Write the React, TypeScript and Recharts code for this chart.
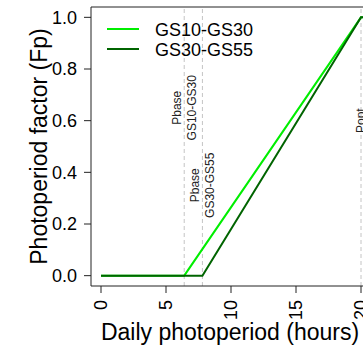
import React from 'react';
import { LineChart, Line, XAxis, YAxis, ReferenceLine } from 'recharts';

// photoperiod response
const seriesNames = ['GS10-GS30', 'GS30-GS55'];
const seriesColors = ['#00ee00', '#006400'];
const hoursGS10 = [0, 6.4, 20, 24];
const fpGS10 = [0, 0, 1, 1];
const hoursGS30 = [0, 7.8, 20, 24];
const fpGS30 = [0, 0, 1, 1];

const thresholdHours = [6.4, 7.8, 20];
const thresholdLabels = [['Pbase', 'GS10-GS30'], ['Pbase', 'GS30-GS55'], ['Popt']];
const thresholdLabelFp = [0.65, 0.35, 0.6];

const xTicks = [0, 5, 10, 15, 20];
const yTicks = [0, 0.2, 0.4, 0.6, 0.8, 1.0];

const gs10 = hoursGS10.map((h, i) => ({ h, fp: fpGS10[i] }));
const gs30 = hoursGS30.map((h, i) => ({ h, fp: fpGS30[i] }));

const FONT = '"Liberation Sans", Arial, sans-serif';
const X_DOMAIN: [number, number] = [-0.77, 25];
const Y_DOMAIN: [number, number] = [-0.04, 1.04];

const XTick = ({ x, y, payload }: any) => (
  <text x={x} y={y} transform={`rotate(-90 ${x} ${y})`} textAnchor="end" dy="0.35em"
    fontSize={18} fontFamily={FONT} fill="#000">
    {payload.value}
  </text>
);

const YTick = ({ x, y, payload }: any) => (
  <text x={x} y={y} textAnchor="end" dy="0.35em" fontSize={18} fontFamily={FONT} fill="#000">
    {Number(payload.value).toFixed(1)}
  </text>
);

const makeThresholdLabel = (lines: string[], fp: number) => ({ viewBox }: any) => {
  const { x, y, height } = viewBox;
  const cy = y + (height * (Y_DOMAIN[1] - fp)) / (Y_DOMAIN[1] - Y_DOMAIN[0]);
  const offsets = lines.length === 1 ? [4] : [-3, 12];
  return (
    <g>
      {lines.map((t, i) => {
        const lx = x + offsets[i];
        return (
          <text key={i} x={lx} y={cy} transform={`rotate(-90 ${lx} ${cy})`} textAnchor="middle"
            fontSize={12} fontFamily={FONT} fill="#222">
            {t}
          </text>
        );
      })}
    </g>
  );
};

export default function App() {
  return (
    <div style={{ position: 'fixed', left: 0, top: 0, width: 363, height: 346, overflow: 'hidden', background: '#fff' }}>
      <LineChart width={440} height={346} margin={{ top: 7, right: 14, bottom: 0, left: 0 }}>
        <XAxis
          type="number"
          dataKey="h"
          domain={X_DOMAIN}
          ticks={xTicks}
          allowDataOverflow
          height={60}
          tickSize={7}
          tickMargin={7}
          tick={<XTick />}
          axisLine={{ stroke: '#222' }}
          tickLine={{ stroke: '#222' }}
          label={{
            content: ({ viewBox }: any) => (
              <text x={viewBox.x + 139} y={viewBox.y + 54} textAnchor="middle" fontSize={23} fontFamily={FONT} fill="#000">
                Daily photoperiod (hours)
              </text>
            ),
          }}
        />
        <YAxis
          type="number"
          dataKey="fp"
          domain={Y_DOMAIN}
          ticks={yTicks}
          allowDataOverflow
          width={91}
          tickSize={7}
          tickMargin={7}
          tick={<YTick />}
          axisLine={{ stroke: '#222' }}
          tickLine={{ stroke: '#222' }}
          label={{
            content: ({ viewBox }: any) => {
              const lx = viewBox.x + 47;
              const ly = viewBox.y + viewBox.height / 2;
              return (
                <text x={lx} y={ly} transform={`rotate(-90 ${lx} ${ly})`} textAnchor="middle" fontSize={23} fontFamily={FONT} fill="#000">
                  Photoperiod factor (Fp)
                </text>
              );
            },
          }}
        />
        <ReferenceLine y={Y_DOMAIN[1]} stroke="#222" />
        {thresholdHours.map((h, i) => (
          <ReferenceLine key={h} x={h} stroke="#c4c4c4" strokeDasharray="4 3"
            label={{ content: makeThresholdLabel(thresholdLabels[i], thresholdLabelFp[i]) }} />
        ))}
        <Line data={gs10} dataKey="fp" name={seriesNames[0]} stroke={seriesColors[0]} strokeWidth={2}
          dot={false} isAnimationActive={false} />
        <Line data={gs30} dataKey="fp" name={seriesNames[1]} stroke={seriesColors[1]} strokeWidth={2}
          dot={false} isAnimationActive={false} />
      </LineChart>
      <svg style={{ position: 'absolute', left: 0, top: 0 }} width={363} height={70}>
        {seriesNames.map((n, i) => (
          <g key={n}>
            <line x1={107} x2={139} y1={29 + i * 20} y2={29 + i * 20} stroke={seriesColors[i]} strokeWidth={2} />
            <text x={155} y={35.5 + i * 20} fontSize={18} fontFamily={FONT} fill="#000">{n}</text>
          </g>
        ))}
      </svg>
    </div>
  );
}
